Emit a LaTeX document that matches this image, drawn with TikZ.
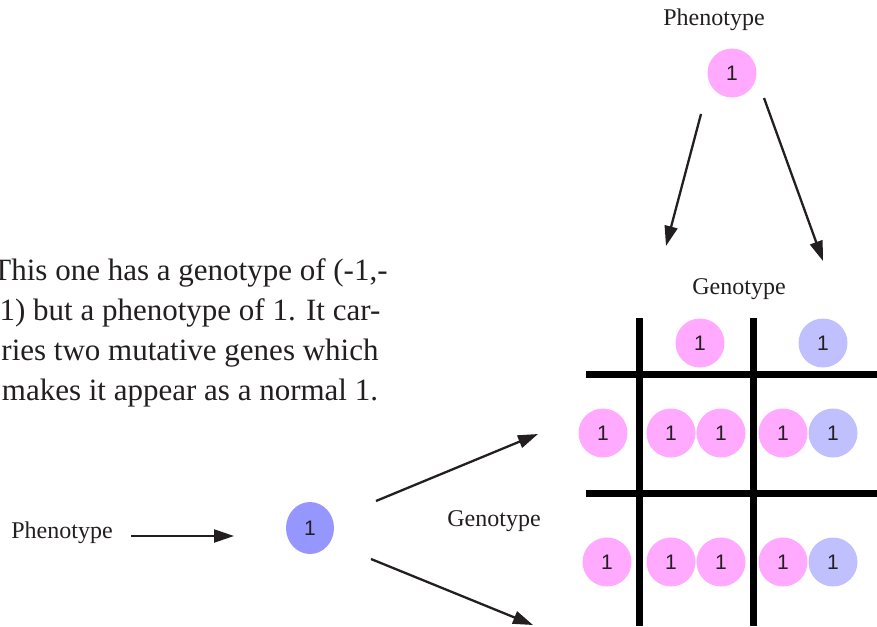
\documentclass[tikz,border=0pt]{standalone}
\usepackage{fontspec}
\setmainfont{Liberation Serif}
\newfontfamily\digitfont{Liberation Sans}
\usetikzlibrary{positioning, arrows.meta, shapes.geometric}

\definecolor{genepink}{RGB}{255,170,255}
\definecolor{genelav}{RGB}{192,192,255}
\definecolor{geneblue}{RGB}{150,150,255}
\definecolor{inkgray}{RGB}{35,31,32}

\begin{document}
\begin{tikzpicture}[
            x=1pt, y=-1pt,
            >={Triangle[length=20pt,width=13pt]},
            gene/.style={circle, fill=#1, minimum size=49pt, inner sep=0pt, text=inkgray,
                font=\digitfont\fontsize{21}{21}\selectfont},
            gene/.default=genepink,
            caption/.style={text=inkgray, inner sep=0pt, font=\fontsize{24}{24}\selectfont},
            link/.style={->, line width=2.3pt, draw=inkgray},
            bar/.style={line width=7pt, draw=black},
        ]
        \useasboundingbox (0,0) rectangle (877,626);

        % Top parent: phenotype and its genotype split
        \node[caption] (topPheno) at (714,20) {Phenotype};
        \node[gene] (topGene) at (732,73) {1};
        \coordinate (topL0) at (701,114);
        \coordinate (topL1) at (666,246);
        \coordinate (topR0) at (764,98);
        \coordinate (topR1) at (823,261);
        \draw[link] (topL0) -- (topL1);
        \draw[link] (topR0) -- (topR1);
        \node[caption] (topGeno) at (739,289) {Genotype};

        % Draw the grid
        \foreach \x in {639,753}
        \draw[bar] (\x,318) -- (\x,626);
        \foreach \y in {374,493}
        \draw[bar] (586,\y) -- (877,\y);

        % Column headers
        \node[gene] (C-1) at (700,343) {1};
        \node[gene=genelav] (C-2) at (823,343) {1};

        % Rows of the table
        \foreach \name / \x / \col in {1/603/genepink, 2/671/genepink, 3/721/genepink, 4/783/genepink, 5/833/genelav}
        \node[gene=\col] (R1-\name) at (\x,433) {1};
        \foreach \name / \x / \col in {1/607/genepink, 2/671/genepink, 3/721/genepink, 4/783/genepink, 5/833/genelav}
        \node[gene=\col] (R2-\name) at (\x,562) {1};

        % Left parent
        \node[text=inkgray, align=center, inner sep=0pt,
              font=\fontsize{31}{40}\selectfont] (note) at (190,333)
            {This one has a genotype of (-1,-\\1) but a phenotype of 1. It car-\\
             ries two mutative genes which\\makes it appear as a normal 1.};
        \node[caption] (leftPheno) at (62,533) {Phenotype};
        \node[ellipse, fill=geneblue, minimum width=48pt, minimum height=52pt, inner sep=0pt,
              text=inkgray, font=\digitfont\fontsize{21}{21}\selectfont] (leftGene) at (310,528) {1};
        \node[caption] (leftGeno) at (494,521) {Genotype};
        \coordinate (inA) at (131,536);
        \coordinate (inB) at (234,536);
        \coordinate (upA) at (376,501);
        \coordinate (upB) at (538,434);
        \coordinate (dnA) at (371,559);
        \coordinate (dnB) at (533,625);
        \draw[link] (inA) -- (inB);
        \draw[link] (upA) -- (upB);
        \draw[link] (dnA) -- (dnB);
    \end{tikzpicture}
\end{document}
